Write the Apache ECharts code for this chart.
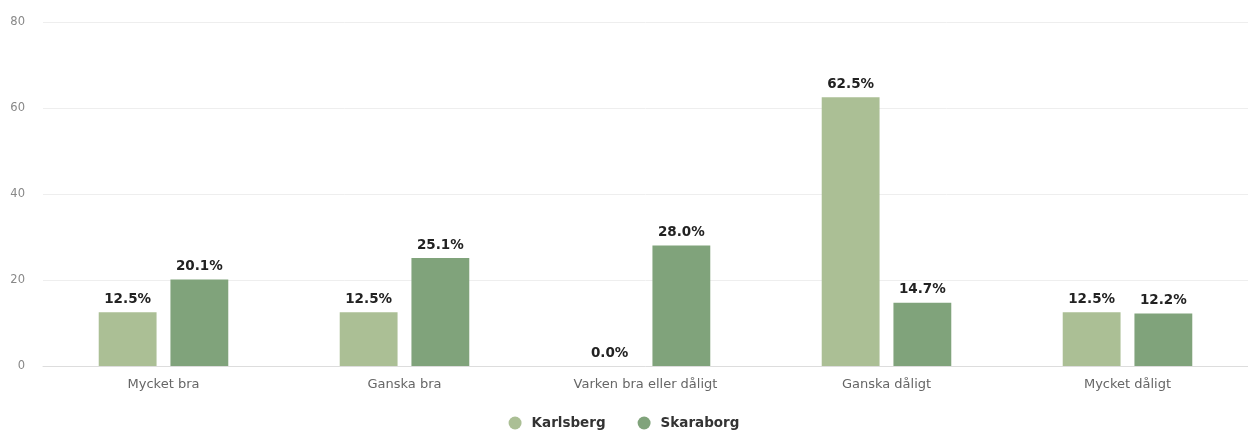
<!DOCTYPE html>
<html>
<head>
<meta charset="utf-8">
<script src="https://cdn.jsdelivr.net/npm/echarts@6/dist/echarts.min.js"></script>
<style>
html,body{margin:0;padding:0;background:#fff;}
#chart{width:1248px;height:440px;}
</style>
</head>
<body>
<div id="chart"></div>
<script>
var categories = ["Mycket bra", "Ganska bra", "Varken bra eller dåligt", "Ganska dåligt", "Mycket dåligt"];
var karlsberg = [12.5, 12.5, 0.0, 62.5, 12.5];
var skaraborg = [20.1, 25.1, 28.0, 14.7, 12.2];
var seriesNames = ["Karlsberg", "Skaraborg"];
var yTicks = [0, 20, 40, 60, 80];

var chart = echarts.init(document.getElementById('chart'));
var labelCfg = {
  show: true,
  position: 'top',
  distance: 6,
  color: '#222',
  fontWeight: 'bold',
  fontSize: 13.5,
  fontFamily: 'DejaVu Sans',
  formatter: function (p) { return p.value.toFixed(1) + '%'; }
};
chart.setOption({
  animation: false,
  grid: { left: 43, right: -2, top: 22, bottom: 74 },
  legend: {
    bottom: 5,
    left: 'center',
    icon: 'circle',
    itemWidth: 13,
    itemHeight: 13,
    itemGap: 32,
    textStyle: { color: '#333', fontWeight: 'bold', fontSize: 13.5, fontFamily: 'DejaVu Sans', padding: [0, 0, 0, 5] },
    data: seriesNames
  },
  xAxis: {
    type: 'category',
    data: categories,
    axisTick: { show: false },
    axisLine: { lineStyle: { color: '#ddd' } },
    axisLabel: { color: '#666', fontSize: 13, margin: 12, fontFamily: 'DejaVu Sans' }
  },
  yAxis: {
    type: 'value',
    min: yTicks[0],
    max: yTicks[yTicks.length - 1],
    interval: 20,
    axisLabel: { color: '#888', fontSize: 11.5, margin: 18, fontFamily: 'DejaVu Sans' },
    splitLine: { lineStyle: { color: '#eee' } }
  },
  series: [
    {
      name: seriesNames[0], type: 'bar', data: karlsberg,
      barWidth: '24%', barGap: '24%',
      itemStyle: { color: '#abbf95' },
      label: labelCfg
    },
    {
      name: seriesNames[1], type: 'bar', data: skaraborg,
      barWidth: '24%', barGap: '24%',
      itemStyle: { color: '#80a37b' },
      label: labelCfg
    }
  ]
});
</script>
</body>
</html>
